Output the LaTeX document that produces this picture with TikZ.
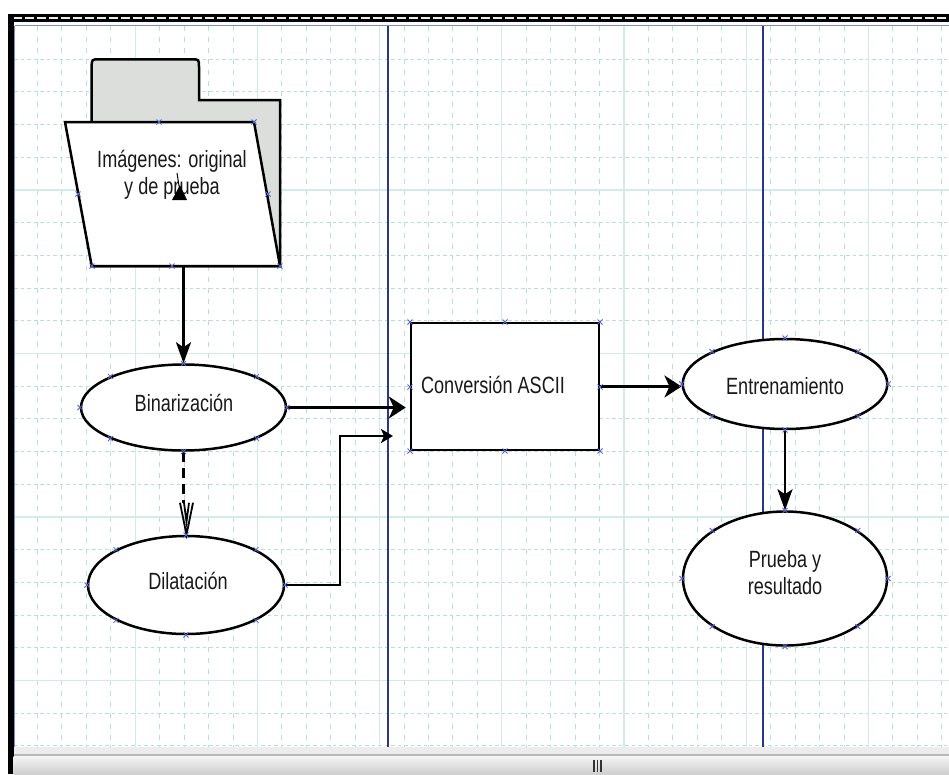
\documentclass[tikz,border=0pt]{standalone}
\usepackage{fontspec}
\setmainfont{Liberation Sans}
\newfontfamily\vfont[FakeStretch=0.77]{Liberation Sans}
\usetikzlibrary{arrows.meta,shapes.geometric,calc}

\definecolor{majg}{RGB}{210,234,234}
\definecolor{ming}{RGB}{186,222,222}
\definecolor{lane}{RGB}{40,55,140}
\definecolor{frameblue}{RGB}{120,140,200}
\definecolor{markc}{RGB}{85,100,205}
\definecolor{folderback}{RGB}{220,222,220}
\definecolor{txt}{RGB}{25,25,25}

\tikzset{
  xm/.pic={\draw[markc,line width=0.8pt] (-2.5,-2.5)--(2.5,2.5) (-2.5,2.5)--(2.5,-2.5);},
  vhead/.pic={\draw[black,line width=1.8pt,line join=miter]
      (-6.5,-32) -- (0,0) -- (6.5,-32) (-2.5,-32) -- (0,-13) -- (2.5,-32);},
  shp/.style={draw=black, line width=2.5pt, fill=white, inner sep=0pt},
  lbl/.style={font=\vfont\fontsize{23.5}{26.5}\selectfont, text=txt, align=center, inner sep=0pt},
  conn/.style={line width=2.4pt, draw=black},
  bigtip/.style={-{Stealth[length=17pt,width=22pt,inset=5pt]}},
  vtip/.style={-{Stealth[length=21pt,width=15pt,inset=5pt]}},
  smalltip/.style={-{Stealth[length=12pt,width=14pt,inset=3pt]}},
}

\begin{document}
\begin{tikzpicture}[x=1pt,y=-1pt]
\useasboundingbox (0,0) rectangle (949,774);
\fill[white] (0,0) rectangle (949,774);

% grid
\begin{scope}
\clip (14,26) rectangle (949,747);
\foreach \i in {1,...,38}{
  \draw[ming,line width=0.9pt,dash pattern=on 5pt off 5.9pt] ({13+24.44*\i},26) -- ({13+24.44*\i},747);
}
\foreach \j in {1,...,22}{
  \draw[ming,line width=0.9pt,dash pattern=on 3.5pt off 3pt] (14,{26.5+32.7*\j}) -- (949,{26.5+32.7*\j});
}
\foreach \i in {5,10,...,35}{
  \draw[majg,line width=1.2pt] ({13+24.44*\i},26) -- ({13+24.44*\i},747);
}
\foreach \j in {5,10,15,20}{
  \draw[majg,line width=1.2pt] (14,{26.5+32.7*\j}) -- (949,{26.5+32.7*\j});
}
\end{scope}

% lane separators
\draw[lane,line width=1.3pt] (388,25) -- (388,747);
\draw[lane,line width=1.3pt] (763,25) -- (763,747);

% window frame
\fill[black] (8,14) rectangle (949,22);
\draw[white!85!gray,line width=2pt,dash pattern=on 9pt off 3pt] (13,18.3) -- (949,18.3);
\fill[black] (8,14) rectangle (13.5,774);
\draw[frameblue,line width=1.5pt] (14.5,25.5) -- (949,25.5);
\draw[frameblue,line width=1.5pt] (14.5,25.5) -- (14.5,747);

% bottom scroll bar
\fill[gray!15] (13.5,747) rectangle (949,754);
\fill[gray!55] (13.5,754) rectangle (949,756);
\shade[top color=gray!8, bottom color=gray!38] (13.5,756) rectangle (949,774);
\foreach \gx in {594,597.5,601}{
  \draw[gray!40!black,line width=1.4pt] (\gx,760) -- (\gx,772);
}

% folder
\filldraw[fill=folderback,draw=black,line width=2.5pt]
  (91.7,122) -- (91.7,67) .. controls (91.7,59.3) .. (99.7,59.3) -- (191,59.3)
  .. controls (199,59.3) .. (199,67) -- (199,100) -- (280,100) -- (280,266) -- (91.7,266) -- cycle;
\filldraw[fill=white,draw=black,line width=2.5pt]
  (65,122) -- (254,122) -- (280,266) -- (91.7,266) -- cycle;
\node[inner sep=0pt,minimum width=215pt,minimum height=144pt] (folder) at (172.5,194) {};
\node[lbl] (foldertext) at (172,175) {Imágenes: original\\y de prueba};
\fill[black] (172,200) -- (180,185) -- (187,200) -- cycle;
\draw[black,line width=1pt] (177,173) -- (180,192);

% shapes
\node[shp,ellipse,minimum width=205pt,minimum height=86pt] (bin) at (183.5,407.5) {};
\node[lbl] (bintext) at (184,403) {Binarización};
\node[shp,ellipse,minimum width=196pt,minimum height=98pt] (dil) at (186,585) {};
\node[lbl] (diltext) at (188,580.5) {Dilatación};
\node[shp,rectangle,minimum width=188pt,minimum height=127pt] (box) at (505,386.5) {};
\node[lbl] (boxtext) at (493,385) {Conversión ASCII};
\node[shp,ellipse,minimum width=204.6pt,minimum height=90pt] (ent) at (785,384) {};
\node[lbl] (enttext) at (785,386) {Entrenamiento};
\node[shp,ellipse,minimum width=204pt,minimum height=134pt] (pr) at (785,578.5) {};
\node[lbl] (prtext) at (785,572.5) {Prueba y\\resultado};

% connectors
\draw[conn,vtip] (folder.south -| bin.north) -- (bin.north);
\coordinate (vtipend) at ($(dil.north)+(0.5,0)$);
\coordinate (vback) at ($(bin.south |- dil.north)+(0,-32)$);
\draw[conn,dash pattern=on 10pt off 6pt] (bin.south) -- (vback);
\pic at (vtipend) {vhead};
\draw[conn,bigtip,shorten >=4pt] (bin.east) -- (bin.east -| box.west);
\coordinate (bend) at (340,436);
\coordinate (dilend) at (393,436);
\draw[conn,smalltip] (dil.east) -| (bend) -- (dilend);
\draw[conn,bigtip] (box.east) -- (box.east -| ent.west);
\draw[conn,vtip] (ent.south) -- (pr.north);

% connection point markers
\foreach \p in {(159,122),(254,122),(78,194),(268,194),(92,266),(172,266),(280,266)}{
  \pic at \p {xm};
}
\foreach \p in {(410,322),(505,322),(600,322),(410,387),(600,387),(410,451),(505,451),(600,451)}{
  \pic at \p {xm};
}
\foreach \a in {0,45,...,315}{
  \pic at ($(bin.center)+({103.5*cos(\a)},{44*sin(\a)})$) {xm};
  \pic at ($(dil.center)+({99*cos(\a)},{50*sin(\a)})$) {xm};
  \pic at ($(ent.center)+({103.3*cos(\a)},{46*sin(\a)})$) {xm};
  \pic at ($(pr.center)+({103*cos(\a)},{68*sin(\a)})$) {xm};
}
\end{tikzpicture}
\end{document}
